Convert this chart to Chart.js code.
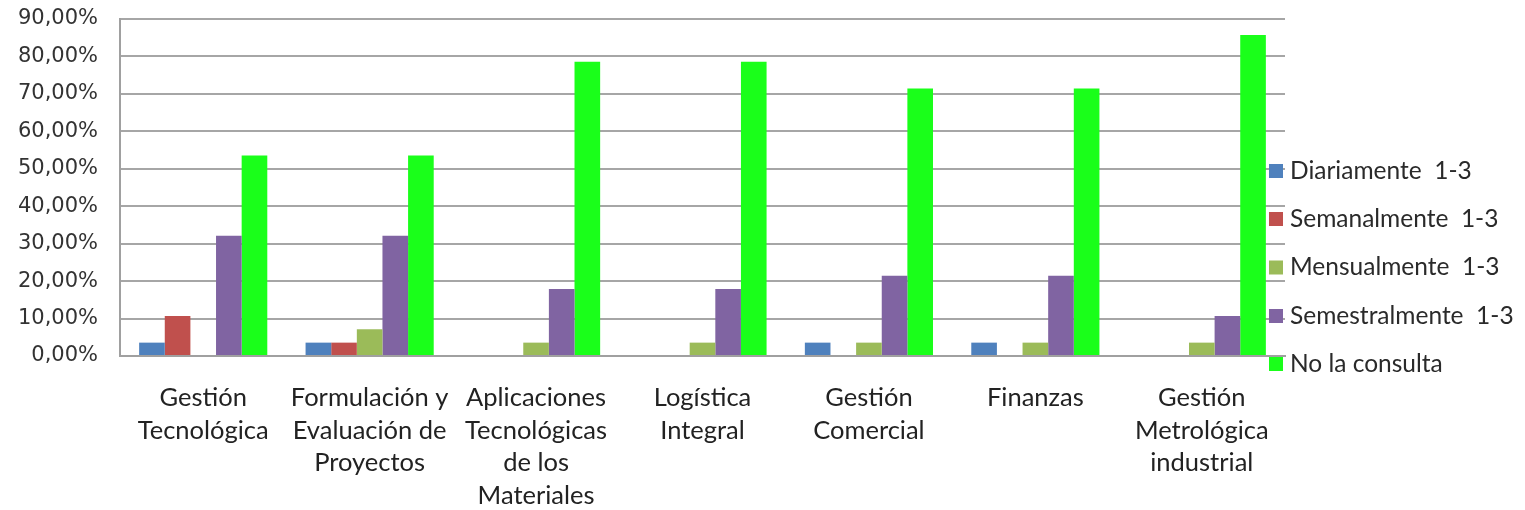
<!DOCTYPE html>
<html>
<head>
<meta charset="utf-8">
<script src="https://cdn.jsdelivr.net/npm/chart.js@4/dist/chart.umd.min.js"></script>
<style>
html,body{margin:0;padding:0;background:#fff;}
#wrap{width:1525px;height:510px;position:relative;}
</style>
</head>
<body>
<div id="wrap"><canvas id="c" width="1525" height="510"></canvas></div>
<script>
const categories = [
  ["Gestión","Tecnológica"],
  ["Formulación y","Evaluación de","Proyectos"],
  ["Aplicaciones","Tecnológicas","de los","Materiales"],
  ["Logística","Integral"],
  ["Gestión","Comercial"],
  ["Finanzas"],
  ["Gestión","Metrológica","industrial"]
];
const seriesNames = ["Diariamente  1-3","Semanalmente  1-3","Mensualmente  1-3","Semestralmente  1-3","No la consulta"];
const diariamente    = [3.57, 3.57, 0, 0, 3.57, 3.57, 0];
const semanalmente   = [10.71, 3.57, 0, 0, 0, 0, 0];
const mensualmente   = [0, 7.14, 3.57, 3.57, 3.57, 3.57, 3.57];
const semestralmente = [32.14, 32.14, 17.86, 17.86, 21.43, 21.43, 10.71];
const noLaConsulta   = [53.57, 53.57, 78.57, 78.57, 71.43, 71.43, 85.71];
const yTicks = [0,10,20,30,40,50,60,70,80,90];

const colors = ['#4F81BD','#C0504D','#9BBB59','#8064A2','#1AFF1A'];
const values = [diariamente, semanalmente, mensualmente, semestralmente, noLaConsulta];

const legendPlugin = {
  id: 'sideLegend',
  afterDraw(chart) {
    const ctx = chart.ctx;
    ctx.save();
    ctx.font = '24.5px Lato, "Liberation Sans Narrow", sans-serif';
    ctx.textBaseline = 'middle';
    const ys = [171, 219, 267.5, 316, 364];
    chart.data.datasets.forEach((ds, i) => {
      ctx.fillStyle = ds.backgroundColor;
      ctx.fillRect(1269, ys[i] - 7, 14, 14);
      ctx.fillStyle = '#2a2a2a';
      ctx.fillText(ds.label, 1290, ys[i]);
    });
    ctx.restore();
  }
};

new Chart(document.getElementById('c'), {
  type: 'bar',
  data: {
    labels: categories,
    datasets: seriesNames.map((n, i) => ({
      label: n,
      data: values[i],
      backgroundColor: colors[i],
      borderWidth: 0,
      categoryPercentage: 0.77,
      barPercentage: 1.0
    }))
  },
  options: {
    responsive: false,
    animation: false,
    layout: { padding: { left: 0, right: 240, top: 19, bottom: 0 } },
    plugins: { legend: { display: false }, tooltip: { enabled: false } },
    scales: {
      x: {
        grid: { display: false, drawTicks: false },
        border: { color: '#a0a0a0', width: 2 },
        ticks: {
          color: '#222',
          font: { family: 'Lato, "Liberation Sans Narrow", sans-serif', size: 25.5, lineHeight: 1.29 },
          padding: 25,
          maxRotation: 0, autoSkip: false
        },
        afterFit(s) { s.height = 154; s.paddingTop = 0; s.paddingBottom = 0; s.paddingLeft = 0; s.paddingRight = 0; }
      },
      y: {
        min: 0, max: 90,
        afterBuildTicks(s) { s.ticks = yTicks.map(v => ({ value: v })); },
        grid: { color: '#a6a6a6', lineWidth: 2, drawTicks: false },
        border: { color: '#a0a0a0', width: 2 },
        ticks: {
          color: '#333',
          font: { family: '"DejaVu Sans", sans-serif', size: 21 },
          padding: 22,
          callback: v => v.toFixed(2).replace('.', ',') + '%'
        },
        afterFit(s) { s.width = 120; s.paddingTop = 0; s.paddingBottom = 0; }
      }
    }
  },
  plugins: [legendPlugin]
});
</script>
</body>
</html>
